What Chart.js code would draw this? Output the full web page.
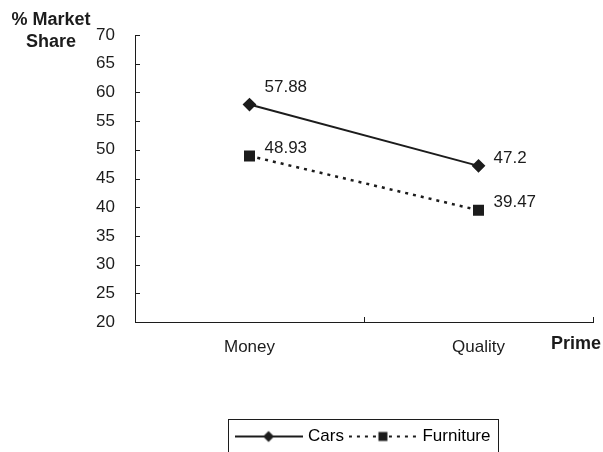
<!DOCTYPE html>
<html>
<head>
<meta charset="utf-8">
<script src="https://cdn.jsdelivr.net/npm/chart.js@4.4.0/dist/chart.umd.min.js"></script>
<style>
  html, body { margin: 0; padding: 0; background: #fff; }
</style>
</head>
<body>
<canvas id="share-chart" width="603" height="452"></canvas>
<script>
// chart data
const categories = ['Money', 'Quality']
const carsShare = [57.88, 47.2]
const furnitureShare = [48.93, 39.47]
const yMin = 20
const yMax = 70
const yStep = 5
const yAxisTitle = ['% Market', 'Share']
const xAxisTitle = 'Prime'

const INK = '#1c1c1c'
const FONT = '"Liberation Sans", Arial, sans-serif'

Chart.defaults.font.family = FONT
Chart.defaults.font.size = 17
Chart.defaults.color = INK

// little line + marker picture for the legend
function legendSample(style, dash) {
  const cv = document.createElement('canvas')
  cv.width = 68
  cv.height = 14
  const c = cv.getContext('2d')
  c.strokeStyle = INK
  c.fillStyle = INK
  c.lineWidth = 2
  c.setLineDash(dash)
  c.beginPath()
  c.moveTo(0, 7)
  c.lineTo(68, 7)
  c.stroke()
  c.setLineDash([])
  c.beginPath()
  if (style === 'rectRot') {
    c.moveTo(34, 1.5)
    c.lineTo(39.5, 7)
    c.lineTo(34, 12.5)
    c.lineTo(28.5, 7)
    c.closePath()
  } else {
    c.rect(29.5, 2.5, 9, 9)
  }
  c.fill()
  return cv
}

const valueLabels = {
  id: 'valueLabels',
  afterDatasetsDraw(chart) {
    const c = chart.ctx
    c.save()
    c.font = '17px ' + FONT
    c.fillStyle = INK
    c.textBaseline = 'middle'
    c.textAlign = 'left'
    chart.data.datasets.forEach((ds, i) => {
      chart.getDatasetMeta(i).data.forEach((pt, j) => {
        // first label sits a bit higher in the original
        const lift = i === 0 && j === 0 ? 17 : 8
        c.fillText(String(ds.data[j]), pt.x + 15, pt.y - lift)
      })
    })
    c.restore()
  }
}

const axisDecor = {
  id: 'axisDecor',
  afterDraw(chart) {
    const c = chart.ctx
    const x = chart.scales.x
    const y = chart.scales.y
    c.save()
    c.strokeStyle = INK
    c.lineWidth = 1
    // inside tick marks on y
    y.ticks.forEach((t, i) => {
      const py = Math.round(y.getPixelForTick(i)) + 0.5
      c.beginPath()
      c.moveTo(y.right, py)
      c.lineTo(y.right + 5, py)
      c.stroke()
    })
    // inside tick marks on x, between categories
    for (let i = 0; i <= categories.length; i++) {
      const px = Math.round(x.getPixelForValue(i - 0.5)) + 0.5
      c.beginPath()
      c.moveTo(px, x.top)
      c.lineTo(px, x.top - 5)
      c.stroke()
    }
    // axis titles
    c.fillStyle = INK
    c.font = 'bold 18px ' + FONT
    c.textAlign = 'center'
    c.textBaseline = 'middle'
    c.fillText(yAxisTitle[0], 51, 20)
    c.fillText(yAxisTitle[1], 51, 42)
    c.textAlign = 'right'
    c.fillText(xAxisTitle, x.right + 8, x.top + 22)
    // legend frame
    const boxes = chart.legend.legendHitBoxes
    if (boxes.length) {
      const first = boxes[0]
      const last = boxes[boxes.length - 1]
      const left = Math.round(first.left - 10) + 0.5
      const right = Math.round(last.left + last.width + 8) + 0.5
      const top = Math.round(first.top - 9) + 0.5
      c.strokeRect(left, top, right - left, chart.height - top + 4)
    }
    c.restore()
  }
}

const ctx = document.getElementById('share-chart')

new Chart(ctx, {
  type: 'line',
  data: {
    labels: categories,
    datasets: [
      {
        label: 'Cars',
        data: carsShare,
        borderColor: INK,
        backgroundColor: INK,
        borderWidth: 2,
        pointStyle: 'rectRot',
        pointRadius: 5.5,
        legendImg: legendSample('rectRot', [])
      },
      {
        label: 'Furniture',
        data: furnitureShare,
        borderColor: INK,
        backgroundColor: INK,
        borderWidth: 2.5,
        borderDash: [3, 5],
        pointStyle: 'rect',
        pointRadius: 6,
        legendImg: legendSample('rect', [3, 5])
      }
    ]
  },
  options: {
    responsive: false,
    animation: false,
    devicePixelRatio: 1,
    layout: {
      padding: { left: 0, right: 10, top: 35, bottom: -3 }
    },
    plugins: {
      tooltip: { enabled: false },
      legend: {
        position: 'bottom',
        fullSize: false,
        labels: {
          usePointStyle: true,
          pointStyleWidth: 62,
          padding: 8,
          color: INK,
          font: { size: 17 },
          generateLabels(chart) {
            return chart.data.datasets.map((ds, i) => ({
              text: ds.label,
              pointStyle: ds.legendImg,
              fillStyle: INK,
              strokeStyle: INK,
              lineWidth: 0,
              hidden: false,
              datasetIndex: i
            }))
          }
        }
      }
    },
    scales: {
      x: {
        offset: true,
        grid: { display: false },
        border: { display: true, color: INK, width: 1 },
        ticks: { padding: 7, color: INK },
        afterFit(scale) {
          scale.height = 98
        }
      },
      y: {
        min: yMin,
        max: yMax,
        grid: { display: false },
        border: { display: true, color: INK, width: 1 },
        ticks: { stepSize: yStep, padding: 12, color: INK },
        afterFit(scale) {
          scale.width = 135
        }
      }
    }
  },
  plugins: [valueLabels, axisDecor]
})
</script>
</body>
</html>
